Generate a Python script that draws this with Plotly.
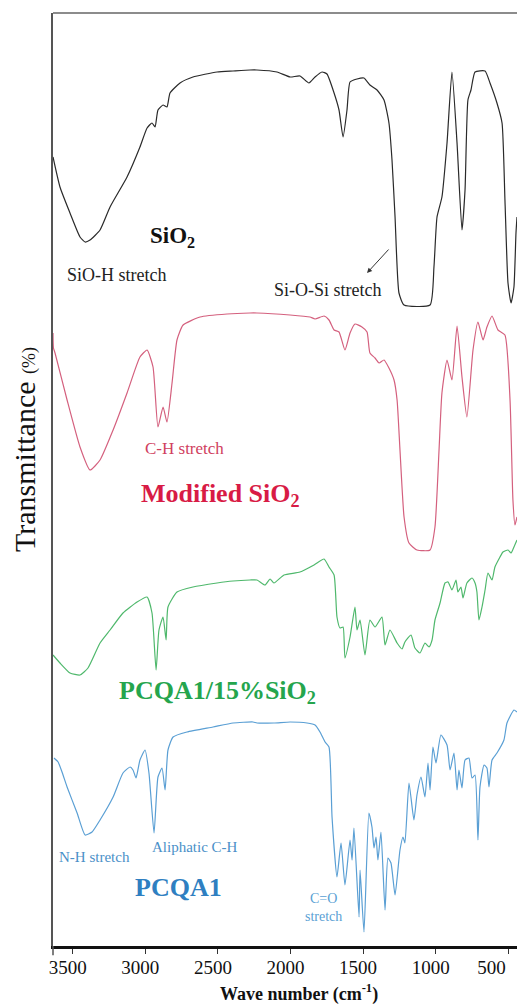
import plotly.graph_objects as go

# FTIR spectra, stacked (transmittance in arbitrary offset units)
sio2_wn = [3636, 3588, 3519, 3450, 3415, 3381, 3312, 3243, 3126, 3037, 2988, 2954, 2933, 2913, 2878, 2851,
           2830, 2761, 2672, 2506, 2396, 2279, 2231, 2093, 2003, 1935, 1873, 1831, 1783, 1749, 1700, 1666,
           1638, 1611, 1590, 1542, 1494, 1453, 1404, 1356, 1322, 1301, 1280, 1253, 1218, 1039, 1012, 991,
           957, 922, 888, 853, 819, 798, 778, 757, 729, 660, 626, 578, 543, 523, 502, 481, 461, 447, 440]
sio2_t = [789, 759, 733, 709, 704, 706, 716, 739, 769, 799, 818, 823, 819, 836, 841, 839,
          853, 863, 869, 874, 875, 876, 876, 874, 869, 870, 863, 869, 874, 872, 853, 836,
          809, 836, 864, 867, 868, 861, 856, 846, 823, 786, 729, 653, 641, 641, 679, 729,
          749, 803, 874, 803, 716, 756, 846, 856, 874, 875, 863, 843, 823, 746, 663, 643, 659, 713, 729]

mod_wn = [3636, 3633, 3622, 3539, 3450, 3381, 3312, 3222, 3126, 3037, 2988, 2947, 2913, 2878, 2851, 2816,
          2782, 2740, 2623, 2437, 2279, 2231, 2003, 1866, 1831, 1769, 1735, 1700, 1666, 1625, 1590, 1556,
          1508, 1473, 1453, 1418, 1390, 1356, 1322, 1287, 1266, 1246, 1218, 1184, 1129, 1039, 1005, 977,
          957, 922, 888, 853, 819, 785, 743, 709, 674, 647, 612, 571, 523, 488, 468, 454, 440]
mod_t = [613, 598, 593, 546, 499, 476, 486, 516, 553, 589, 596, 579, 519, 539, 524, 563,
         606, 621, 629, 632, 633, 633, 631, 629, 627, 630, 626, 616, 614, 596, 613, 622,
         619, 614, 593, 588, 583, 586, 578, 566, 546, 496, 429, 403, 396, 396, 419, 496,
         553, 586, 566, 620, 569, 529, 596, 624, 606, 619, 630, 616, 611, 546, 446, 421, 429]

comp_wn = [3636, 3588, 3519, 3450, 3395, 3312, 3243, 3154, 3057, 2988, 2954, 2926, 2906, 2878, 2857, 2844,
           2782, 2672, 2506, 2396, 2279, 2231, 2176, 2141, 2114, 2045, 1935, 1838, 1769, 1735, 1700, 1680,
           1659, 1638, 1625, 1590, 1556, 1542, 1521, 1487, 1453, 1418, 1370, 1349, 1315, 1266, 1232, 1212,
           1170, 1143, 1108, 1074, 1046, 1025, 1005, 970, 936, 915, 888, 860, 847, 826, 812, 785, 750, 729,
           716, 702, 681, 660, 640, 612, 592, 557, 537, 502, 481, 461, 440]
comp_t = [291, 283, 273, 271, 278, 303, 316, 333, 344, 349, 333, 276, 316, 329, 306, 339,
          354, 359, 363, 365, 366, 366, 361, 367, 363, 371, 374, 381, 387, 379, 371, 329,
          318, 319, 288, 309, 339, 316, 326, 291, 326, 319, 329, 301, 316, 303, 297, 304,
          311, 298, 293, 303, 299, 306, 326, 343, 363, 364, 356, 366, 354, 359, 348, 363, 368, 363,
          354, 326, 339, 356, 373, 366, 379, 389, 394, 396, 393, 399, 406]

pcqa_wn = [3629, 3601, 3574, 3539, 3470, 3415, 3367, 3312, 3222, 3154, 3105, 3085, 3064, 3037, 3002, 2975,
           2940, 2913, 2885, 2864, 2844, 2809, 2713, 2534, 2396, 2258, 2231, 2114, 2003, 1886, 1831, 1797,
           1762, 1735, 1714, 1680, 1652, 1625, 1590, 1576, 1563, 1528, 1521, 1494, 1460, 1439, 1425, 1411,
           1398, 1377, 1349, 1329, 1308, 1280, 1246, 1225, 1212, 1184, 1150, 1129, 1101, 1074, 1053, 1039,
           1019, 998, 964, 922, 901, 874, 853, 840, 819, 798, 771, 750, 729, 709, 695, 667, 647, 633, 612,
           578, 530, 509, 461, 440]
pcqa_t = [188, 184, 174, 159, 133, 111, 114, 126, 149, 173, 179, 176, 168, 186, 196, 173,
          113, 169, 178, 156, 196, 209, 214, 219, 223, 224, 223, 223, 224, 223, 221, 214,
          204, 199, 129, 69, 103, 61, 106, 86, 118, 29, 76, 14, 133, 119, 98, 109,
          86, 114, 36, 88, 83, 51, 96, 109, 103, 163, 126, 151, 169, 149, 183, 156,
          199, 183, 211, 201, 176, 193, 156, 176, 158, 186, 188, 168, 171, 106, 159, 181, 178, 159, 186,
          193, 206, 223, 236, 234]

tick_vals = [3500, 3000, 2500, 2000, 1500, 1000, 500]
tick_text = ["3500", "3000", "2500", "2000", "1500", "1000", "500"]

SERIF = "Liberation Serif"

fig = go.Figure()
series = [
    (sio2_wn, sio2_t, "#2a2a2a"),
    (mod_wn, mod_t, "#d4607e"),
    (comp_wn, comp_t, "#4fb86c"),
    (pcqa_wn, pcqa_t, "#5a9fd4"),
]
for wn, t, c in series:
    fig.add_trace(go.Scatter(x=wn, y=t, mode="lines",
                             line=dict(color=c, width=1.2, shape="spline", smoothing=0.5),
                             showlegend=False, hoverinfo="skip"))

def txt(x, y, s, size, color, bold=False):
    fig.add_annotation(x=x, y=y, xref="x", yref="y", text=(f"<b>{s}</b>" if bold else s),
                       showarrow=False, font=dict(family=SERIF, size=size, color=color),
                       xanchor="center", yanchor="middle")

txt(2816, 709, "SiO<sub>2</sub>", 23, "#111111", True)
txt(3202, 671, "SiO-H stretch", 18, "#222222")
txt(1742, 656, "Si-O-Si stretch", 18, "#222222")
txt(2727, 498, "C-H stretch", 17, "#d0405e")
txt(2479, 451, "Modified SiO<sub>2</sub>", 26, "#d81b45", True)
txt(2506, 254, "PCQA1/15%SiO<sub>2</sub>", 26, "#25a54d", True)
txt(3350, 89, "N-H stretch", 15, "#4a90c8")
txt(2661, 99, "Aliphatic C-H", 15, "#4a90c8")
txt(2771, 59, "PCQA1", 26, "#2f7fc1", True)
txt(1776, 39, "C=O<br>stretch", 14, "#5a9fd4")

fig.add_annotation(x=1473, y=673, ax=1315, ay=698, xref="x", yref="y", axref="x", ayref="y",
                   text="", showarrow=True, arrowhead=2, arrowsize=1, arrowwidth=1, arrowcolor="#333333")

fig.add_annotation(x=-0.0625, y=0.5316, xref="paper", yref="paper", textangle=-90,
                   text="Transmittance <span style='font-size:18px'>(%)</span>", showarrow=False,
                   font=dict(family=SERIF, size=30, color="#111111"), xanchor="center", yanchor="middle")
fig.add_annotation(x=0.530, y=-0.050, xref="paper", yref="paper",
                   text="<b>Wave number (cm<sup>-1</sup>)</b>", showarrow=False,
                   font=dict(family=SERIF, size=18, color="#111111"), xanchor="center", yanchor="middle")

fig.add_shape(type="line", xref="paper", yref="paper", x0=0, x1=1, y0=1, y1=1,
              line=dict(color="#666666", width=1.5))
fig.add_shape(type="line", xref="paper", yref="paper", x0=0, x1=0, y0=0, y1=-0.01,
              line=dict(color="#555555", width=1.5))

# the last label sits left of its tick in the reference (kept inside the figure)
shown_text = [t + "\u00a0" * 5 if t == "500" else t for t in tick_text]

fig.update_layout(
    width=517, height=1006,
    margin=dict(l=53, r=0, t=13, b=60, autoexpand=False),
    paper_bgcolor="white", plot_bgcolor="white",
    xaxis=dict(range=[3636, 440], tickvals=tick_vals, ticktext=shown_text, showgrid=False, zeroline=False,
               showline=True, linecolor="#111111", linewidth=2.5, ticks="outside", ticklen=5,
               tickcolor="#333333", tickwidth=1, ticklabelshift=5, ticklabelstandoff=-3,
               automargin=False, ticklabeloverflow="allow",
               tickfont=dict(family=SERIF, size=19, color="#111111")),
    yaxis=dict(range=[0, 933], showticklabels=False, ticks="", showgrid=False, zeroline=False,
               showline=True, linecolor="#555555", linewidth=1.5, automargin=False),
)

fig.write_html("out.html", config={"displayModeBar": False},
               post_script="document.body.style.margin='0';document.body.style.padding='0';")
